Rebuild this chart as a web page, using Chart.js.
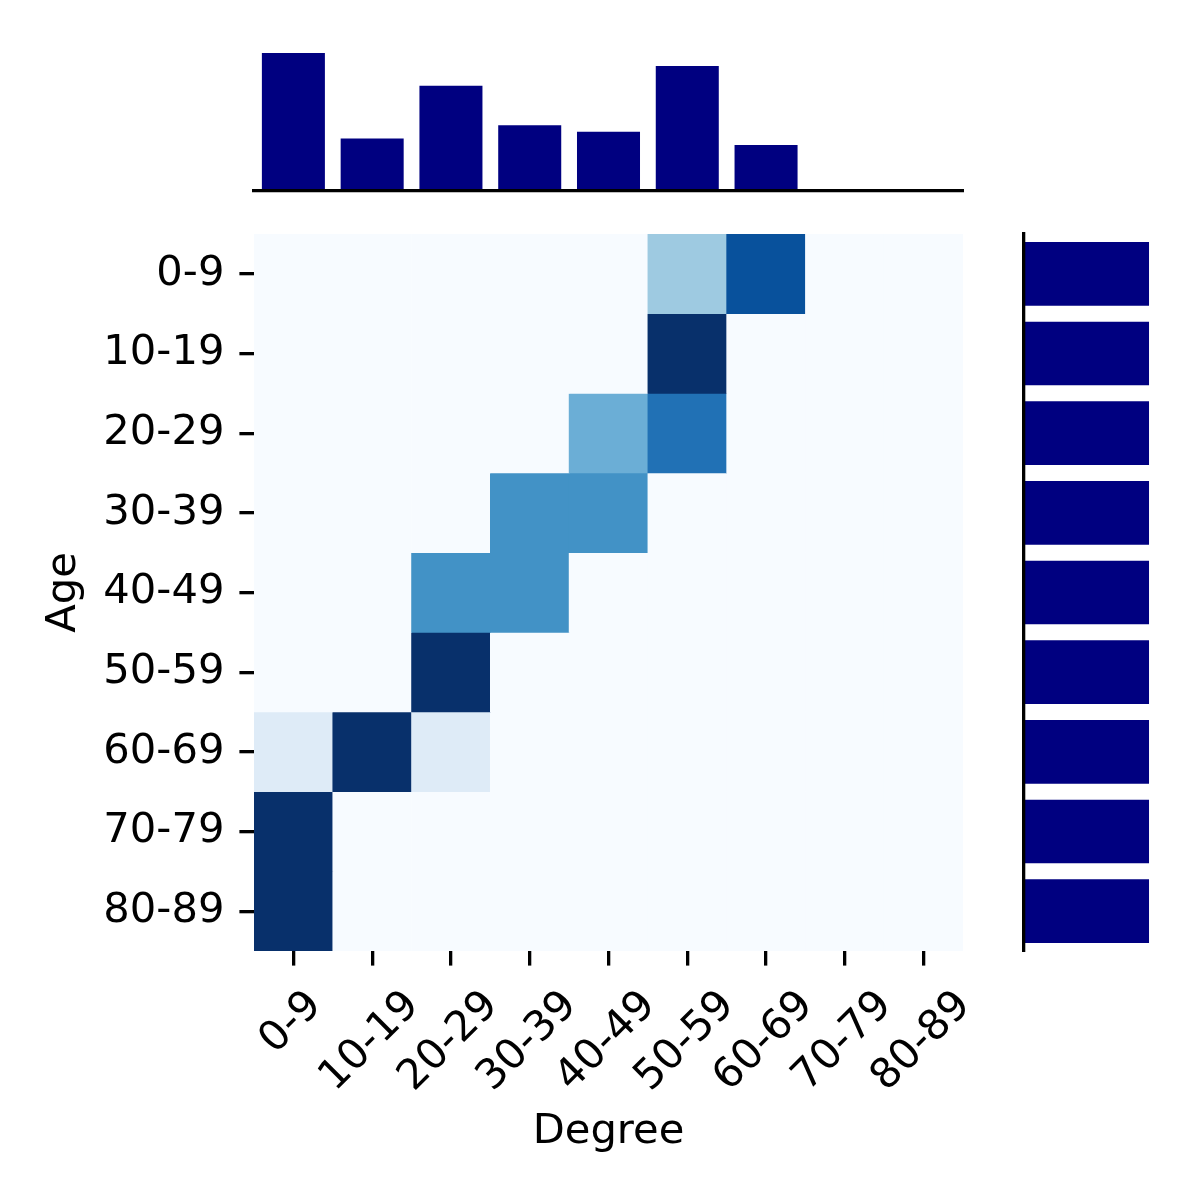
<!DOCTYPE html>
<html>
<head>
<meta charset="utf-8">
<script src="https://cdn.jsdelivr.net/npm/chart.js@4/dist/chart.umd.min.js"></script>
<style>
  html, body { margin: 0; padding: 0; background: #ffffff; }
  #wrap { position: relative; width: 1200px; height: 1200px; }
  #wrap canvas { position: absolute; left: 0; top: 0; }
</style>
</head>
<body>
<div id="wrap">
  <canvas id="heat" width="1200" height="1200"></canvas>
  <canvas id="topHist" width="1200" height="1200"></canvas>
  <canvas id="rightHist" width="1200" height="1200"></canvas>
</div>
<script>
// ---------------- data ----------------
const degreeLabels = ['0-9', '10-19', '20-29', '30-39', '40-49', '50-59', '60-69', '70-79', '80-89'];
const ageLabels    = ['0-9', '10-19', '20-29', '30-39', '40-49', '50-59', '60-69', '70-79', '80-89'];

// rows = Age group, columns = Degree group (share of each age row)
const heatRow0 = [0,   0,   0,   0,   0,   0.3, 0.7, 0, 0];
const heatRow1 = [0,   0,   0,   0,   0,   1.0, 0,   0, 0];
const heatRow2 = [0,   0,   0,   0,   0.4, 0.6, 0,   0, 0];
const heatRow3 = [0,   0,   0,   0.5, 0.5, 0,   0,   0, 0];
const heatRow4 = [0,   0,   0.5, 0.5, 0,   0,   0,   0, 0];
const heatRow5 = [0,   0,   1.0, 0,   0,   0,   0,   0, 0];
const heatRow6 = [0.1, 0.8, 0.1, 0,   0,   0,   0,   0, 0];
const heatRow7 = [1.0, 0,   0,   0,   0,   0,   0,   0, 0];
const heatRow8 = [1.0, 0,   0,   0,   0,   0,   0,   0, 0];
const heatValues = [heatRow0, heatRow1, heatRow2, heatRow3, heatRow4, heatRow5, heatRow6, heatRow7, heatRow8];

// marginal totals
const degreeTotals = [2.1, 0.8, 1.6, 1.0, 0.9, 1.9, 0.7, 0, 0];
const ageTotals    = [1, 1, 1, 1, 1, 1, 1, 1, 1];

// ---------------- styles ----------------
const FONT = { family: '"DejaVu Sans", sans-serif', size: 41.67, lineHeight: 1 };
const BAR_COLOR = '#000080';
const VMAX = 0.8;
const BLUES = ['#f7fbff', '#deebf7', '#c6dbef', '#9ecae1', '#6baed6', '#4292c6', '#2171b5', '#08519c', '#08306b'];

function hexToRgb(h) {
  return [parseInt(h.slice(1, 3), 16), parseInt(h.slice(3, 5), 16), parseInt(h.slice(5, 7), 16)];
}
function blues(t) {
  t = Math.max(0, Math.min(1, t));
  const p = t * (BLUES.length - 1);
  const i = Math.min(BLUES.length - 2, Math.floor(p));
  const f = p - i;
  const a = hexToRgb(BLUES[i]), b = hexToRgb(BLUES[i + 1]);
  const c = a.map((v, k) => Math.round(v + (b[k] - v) * f));
  return `rgb(${c[0]},${c[1]},${c[2]})`;
}

const tickGrid = {
  display: true, drawOnChartArea: false, drawTicks: true,
  tickLength: 14.6, tickWidth: 3.3, tickColor: '#000000',
  lineWidth: 3.3, color: '#000000', offset: false
};

// rotated x tick labels, centred under each tick (matplotlib-like)
const rotatedXLabels = {
  id: 'rotatedXLabels',
  afterDraw(chart) {
    const xs = chart.scales.x;
    const ctx = chart.ctx;
    ctx.save();
    ctx.font = `${FONT.size}px ${FONT.family}`;
    ctx.fillStyle = '#000000';
    ctx.textAlign = 'center';
    ctx.textBaseline = 'middle';
    xs.ticks.forEach((t, i) => {
      const label = xs.getLabelForValue(t.value);
      const w = ctx.measureText(label).width;
      const cx = xs.getPixelForTick(i) - 2;
      const cy = xs.top + 48 + w * Math.SQRT1_2 / 2;
      ctx.save();
      ctx.translate(cx, cy);
      ctx.rotate(-Math.PI / 4);
      ctx.fillText(label, 0, 0);
      ctx.restore();
    });
    ctx.restore();
  }
};

// ---------------- heatmap ----------------
new Chart(document.getElementById('heat'), {
  type: 'bar',
  data: {
    labels: degreeLabels,
    datasets: ageLabels.map((age, r) => ({
      label: age,
      data: degreeLabels.map(() => [r, r + 1]),
      backgroundColor: heatValues[r].map(v => blues(v / VMAX)),
      borderWidth: 0,
      barPercentage: 1,
      categoryPercentage: 1,
      grouped: false
    }))
  },
  options: {
    responsive: false,
    animation: false,
    events: [],
    layout: { padding: { left: 0, right: 237, top: 234, bottom: 0 } },
    plugins: { legend: { display: false }, tooltip: { enabled: false } },
    scales: {
      x: {
        type: 'category',
        offset: true,
        grid: tickGrid,
        border: { display: false },
        ticks: { display: false },
        title: { display: true, text: 'Degree', font: FONT, color: '#000000', padding: { top: 0, bottom: 47 } },
        afterFit: s => { s.height = 249; }
      },
      y: {
        type: 'linear',
        min: 0, max: ageLabels.length,
        reverse: true,
        afterBuildTicks: s => { s.ticks = ageLabels.map((_, i) => ({ value: i + 0.5 })); },
        ticks: {
          callback: v => ageLabels[Math.floor(v)],
          font: FONT, color: '#000000', padding: 15, autoSkip: false
        },
        grid: tickGrid,
        border: { display: false },
        title: { display: true, text: 'Age', font: FONT, color: '#000000', padding: { top: 43, bottom: 0 } },
        afterFit: s => { s.width = 254; }
      }
    }
  },
  plugins: [rotatedXLabels]
});

// ---------------- top marginal histogram ----------------
new Chart(document.getElementById('topHist'), {
  type: 'bar',
  data: {
    labels: degreeLabels,
    datasets: [{ data: degreeTotals, backgroundColor: BAR_COLOR, borderWidth: 0, barPercentage: 0.8, categoryPercentage: 1 }]
  },
  options: {
    responsive: false,
    animation: false,
    events: [],
    layout: { padding: { left: 254, right: 237, top: 46, bottom: 1009 } },
    plugins: { legend: { display: false }, tooltip: { enabled: false } },
    scales: {
      x: {
        display: true,
        grid: { display: false },
        ticks: { display: false },
        border: { display: true, color: '#000000', width: 3.3, z: 1 },
        afterFit: s => { s.height = 0; }
      },
      y: { display: false, min: 0, max: 2.205 }
    }
  }
});

// ---------------- right marginal histogram ----------------
new Chart(document.getElementById('rightHist'), {
  type: 'bar',
  data: {
    labels: ageLabels,
    datasets: [{ data: ageTotals, backgroundColor: BAR_COLOR, borderWidth: 0, barPercentage: 0.8, categoryPercentage: 1 }]
  },
  options: {
    indexAxis: 'y',
    responsive: false,
    animation: false,
    events: [],
    layout: { padding: { left: 1023.5, right: 44.7, top: 234, bottom: 249 } },
    plugins: { legend: { display: false }, tooltip: { enabled: false } },
    scales: {
      y: {
        display: true,
        grid: { display: false },
        ticks: { display: false },
        border: { display: true, color: '#000000', width: 3.3, z: 1 },
        afterFit: s => { s.width = 0; }
      },
      x: { display: false, min: 0, max: 1.05 }
    }
  }
});
</script>
</body>
</html>
